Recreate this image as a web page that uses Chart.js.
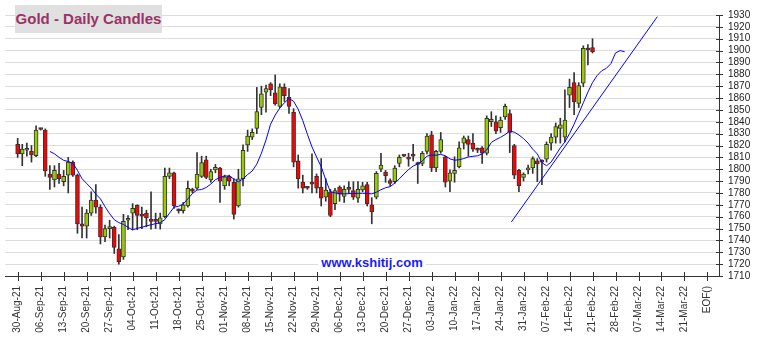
<!DOCTYPE html>
<html>
<head>
    <title>Gold - Daily Candles</title>
    <script src="https://cdn.jsdelivr.net/npm/chart.js"></script>
    <style>
        body { margin: 0; background: #fff; }
        #wrap { position: relative; width: 763px; height: 344px; font-family: "Liberation Sans", Arial, sans-serif; }
        #title { position: absolute; left: 15px; top: 5px; width: 147px; height: 28px; background: #e0e0e0;
                 color: #993366; font-weight: bold; font-size: 15px; line-height: 28px; text-align: center;
                 white-space: nowrap; overflow: visible; }
        #site { position: absolute; left: 318px; top: 254px; width: 108px; height: 17px; background: #fff;
                color: #1a1aff; font-weight: bold; font-size: 13px; line-height: 17px; text-align: center;
                white-space: nowrap; }
    </style>
</head>
<body>
<div id="wrap">
    <canvas id="goldChart" width="763" height="344"></canvas>
    <div id="title">Gold - Daily Candles</div>
    <div id="site">www.kshitij.com</div>
</div>

<script>
    // weekly tick labels, one every 5 trading days (index 0 = 30-Aug-21)
    const weekLabels = ['30-Aug-21', '06-Sep-21', '13-Sep-21', '20-Sep-21', '27-Sep-21', '04-Oct-21', '11-Oct-21',
        '18-Oct-21', '25-Oct-21', '01-Nov-21', '08-Nov-21', '15-Nov-21', '22-Nov-21', '29-Nov-21', '06-Dec-21',
        '13-Dec-21', '20-Dec-21', '27-Dec-21', '03-Jan-22', '10-Jan-22', '17-Jan-22', '24-Jan-22', '31-Jan-22',
        '07-Feb-22', '14-Feb-22', '21-Feb-22', '28-Feb-22', '07-Mar-22', '14-Mar-22', '21-Mar-22', 'EOF()'];

    // daily OHLC
    const opens = [1821, 1813, 1816, 1815, 1811.5, 1834, 1833, 1796, 1791, 1796,
        1789.5, 1795, 1806, 1795, 1754, 1752, 1763, 1774, 1768, 1743,
        1750, 1751, 1733, 1726, 1757, 1763, 1769.5, 1761, 1763, 1756.5,
        1756.5, 1754, 1760, 1794, 1797, 1765.5, 1765, 1769, 1782, 1784,
        1794, 1808, 1791, 1799.5, 1801, 1786, 1794, 1789, 1769, 1792,
        1820.5, 1827, 1834.5, 1852, 1865, 1872, 1864.5, 1853, 1869, 1860.5,
        1848, 1807, 1789, 1784.5, 1788, 1794, 1785, 1776.5, 1781, 1771,
        1785, 1777, 1783.5, 1782, 1775.5, 1782.5, 1787, 1770, 1776.5, 1800,
        1797.5, 1790.5, 1789.5, 1805, 1811.5, 1809, 1811.5, 1804.5, 1805, 1815,
        1829, 1801, 1815, 1810.5, 1790, 1796.5, 1802, 1822, 1825, 1822,
        1816.5, 1818, 1813.5, 1840, 1840, 1835, 1844, 1847, 1820, 1799,
        1793, 1799.5, 1801, 1807, 1806.5, 1808.5, 1822, 1827, 1834.5, 1827,
        1862.5, 1873, 1855.5, 1872.5, 1901, 1902.5];
    const highs = [1826, 1821, 1822, 1820, 1836.5, 1834.5, 1834, 1803, 1803, 1805,
        1799, 1810, 1807, 1796, 1768, 1766, 1781, 1787, 1770, 1753,
        1757, 1752, 1745, 1762, 1761, 1771, 1770, 1768, 1765.5, 1781,
        1763, 1763, 1801, 1801, 1797.5, 1766.5, 1772, 1790, 1784, 1814,
        1811, 1811, 1800, 1804, 1801.5, 1795, 1795, 1792, 1800, 1820.5,
        1833, 1834, 1869, 1870, 1871, 1873, 1879.5, 1872, 1872, 1868,
        1851, 1812, 1795, 1785, 1813, 1796, 1809, 1792, 1783, 1784,
        1786, 1786, 1789.5, 1789.5, 1789.5, 1789, 1789, 1776, 1798, 1813.5,
        1799, 1792, 1803, 1812, 1812, 1813.5, 1821, 1806, 1815, 1830,
        1832, 1816, 1831, 1811, 1799.5, 1810.5, 1823, 1828, 1828, 1830,
        1818, 1819, 1845, 1848.5, 1845, 1844, 1855, 1850, 1821, 1800,
        1797, 1803.5, 1810.5, 1809, 1808, 1823, 1830, 1839, 1843, 1867,
        1876, 1881.5, 1873, 1904, 1905, 1910];
    const lows = [1810, 1803, 1811, 1806, 1810.5, 1833, 1794, 1783, 1785, 1788,
        1786, 1780, 1794, 1746, 1742, 1742, 1761, 1763, 1737, 1739,
        1742, 1729, 1720, 1724, 1749, 1749, 1749, 1750, 1751.5, 1749.5,
        1750, 1749.5, 1759, 1792, 1767, 1763, 1763, 1768, 1780, 1783,
        1793, 1792, 1789, 1797, 1772, 1783, 1786, 1758, 1768, 1786,
        1815, 1825, 1830, 1846, 1848, 1862, 1854, 1852, 1857, 1847,
        1802, 1784, 1780, 1783, 1780, 1780, 1769, 1773, 1760, 1766,
        1773, 1772, 1779.5, 1774.5, 1772, 1781, 1769, 1754, 1775, 1798,
        1789, 1786, 1788, 1802, 1810.5, 1802.5, 1807, 1788, 1803, 1813,
        1798, 1798, 1813.5, 1785, 1781, 1789, 1801, 1817, 1811, 1815,
        1814, 1805, 1812, 1836, 1830, 1831, 1842, 1814, 1792, 1781,
        1790, 1796, 1796.5, 1789.5, 1787, 1806, 1816, 1822, 1822, 1823,
        1852, 1846, 1852, 1869.5, 1888, 1898];
    const closes = [1813, 1817, 1816.5, 1812, 1833, 1833.5, 1798.5, 1793, 1799, 1792,
        1794, 1806, 1795, 1754, 1752, 1763, 1774, 1768, 1743, 1750,
        1751, 1734, 1722, 1756, 1757.5, 1767, 1761, 1760.5, 1759, 1756,
        1756, 1759, 1794, 1797, 1769, 1765, 1770, 1784, 1781.5, 1796,
        1805.5, 1793, 1798, 1801.5, 1790, 1793.5, 1790, 1762, 1792, 1816,
        1828, 1831, 1848.5, 1863.5, 1868, 1867, 1855, 1869.5, 1862, 1853,
        1806, 1792, 1784, 1784, 1787.5, 1784, 1775.5, 1782.5, 1761, 1782,
        1779, 1783, 1783, 1776.5, 1783, 1786, 1771, 1764, 1796.5, 1803.5,
        1794.5, 1788, 1801, 1810, 1811, 1808.5, 1811, 1804, 1813.5, 1828,
        1801, 1815, 1825, 1789, 1797, 1799, 1818, 1826.5, 1821, 1817,
        1816, 1813.5, 1843, 1842, 1832, 1841.5, 1853, 1831, 1795, 1786,
        1796, 1801, 1809, 1804.5, 1806, 1821, 1827, 1836, 1837.5, 1841.5,
        1869, 1857, 1870.5, 1902, 1900.5, 1899];

    // moving average line as drawn (starts at trading day 7, runs past the last candle)
    const maStart = 7;
    const maValues = [1815, 1813, 1810, 1807.5, 1806.5, 1805, 1799, 1792, 1788, 1784,
        1779, 1775, 1768.4, 1762.5, 1757.5, 1755, 1753.5, 1751, 1748.8, 1750.2,
        1751.1, 1752.2, 1753.2, 1754.1, 1755, 1757.5, 1762.9, 1768, 1768.8, 1770.7,
        1775, 1779.5, 1782.5, 1782.9, 1784.6, 1787.5, 1791.2, 1793.1, 1794.3, 1794.3,
        1791.8, 1789.4, 1791.8, 1795.5, 1798.5, 1804.3, 1813.5, 1824.7, 1838, 1845.6,
        1851.6, 1856, 1859.5, 1857.3, 1850.6, 1841, 1829.5, 1818.8, 1810.3, 1802.2,
        1791, 1781, 1780.1, 1779.4, 1779.2, 1779.4, 1779.5, 1779.7, 1779.7, 1779.6,
        1779.2, 1780.6, 1782.7, 1784.4, 1785.3, 1788.3, 1791.9, 1796, 1799.7, 1802.7,
        1804.5, 1807, 1811, 1812, 1811.8, 1812.5, 1811.3, 1808.7, 1807.6, 1808,
        1809, 1810.3, 1810.9, 1811.3, 1812.9, 1816.2, 1822.6, 1825, 1826.9, 1829.2,
        1832.2, 1831.2, 1828.9, 1825.8, 1822, 1816.9, 1812.9, 1805.5, 1803, 1806,
        1812, 1818, 1823, 1830, 1838, 1847, 1856, 1865, 1873, 1879,
        1883, 1885, 1889, 1898, 1900, 1899];

    // straight trend line (trading-day index, price)
    const trendX = [107.35, 139.1];
    const trendY = [1755.5, 1928.6];

    const bodies = opens.map((o, i) => ({ x: i, y: [o, closes[i]] }));
    const wicks = lows.map((l, i) => ({ x: i, y: [l, highs[i]] }));
    const maLine = maValues.map((v, i) => ({ x: maStart + i, y: v }));
    const trendLine = trendX.map((x, i) => ({ x: x, y: trendY[i] }));

    // tick marks that cross the axis lines
    const crossTicks = {
        id: 'crossTicks',
        afterDraw(chart) {
            const ctx = chart.ctx, xs = chart.scales.x, ys = chart.scales.y;
            ctx.save();
            ctx.strokeStyle = '#333';
            ctx.lineWidth = 1;
            ctx.beginPath();
            ys.ticks.forEach(t => {
                const py = Math.round(ys.getPixelForValue(t.value)) + 0.5;
                ctx.moveTo(ys.left - 3, py);
                ctx.lineTo(ys.left + 4, py);
            });
            xs.ticks.forEach(t => {
                const px = Math.round(xs.getPixelForValue(t.value)) + 0.5;
                ctx.moveTo(px, xs.top - 4);
                ctx.lineTo(px, xs.top + 5);
            });
            ctx.stroke();
            ctx.restore();
        }
    };

    const ctx = document.getElementById('goldChart').getContext('2d');
    new Chart(ctx, {
        type: 'bar',
        data: {
            datasets: [
                {
                    type: 'line',
                    data: trendLine,
                    borderColor: '#0000ff',
                    borderWidth: 1,
                    pointRadius: 0,
                    order: 0
                },
                {
                    type: 'line',
                    data: maLine,
                    borderColor: '#0000ff',
                    borderWidth: 1,
                    pointRadius: 0,
                    order: 1
                },
                {
                    data: bodies,
                    backgroundColor: bodies.map(b => b.y[1] >= b.y[0] ? '#99cc00' : '#ff0000'),
                    borderColor: '#333333',
                    borderWidth: 1,
                    borderSkipped: false,
                    barThickness: 4,
                    minBarLength: 2,
                    grouped: false,
                    order: 2
                },
                {
                    data: wicks,
                    backgroundColor: '#333333',
                    barThickness: 1,
                    grouped: false,
                    order: 3
                }
            ]
        },
        options: {
            responsive: false,
            animation: false,
            layout: { padding: { left: 5, top: 15, right: 0, bottom: 0 } },
            plugins: { legend: { display: false }, tooltip: { enabled: false } },
            scales: {
                x: {
                    type: 'linear',
                    min: -0.25,
                    max: 150,
                    afterBuildTicks: scale => {
                        scale.ticks = weekLabels.map((_, i) => ({ value: i * 5 }));
                    },
                    afterFit: scale => { scale.height = 68; },
                    grid: { drawOnChartArea: false, drawTicks: false },
                    border: { display: true, color: '#333', width: 1 },
                    ticks: {
                        autoSkip: false,
                        minRotation: 90,
                        maxRotation: 90,
                        padding: 10,
                        color: '#333',
                        font: { family: 'Liberation Sans', size: 10 },
                        callback: v => weekLabels[Math.round(v / 5)]
                    }
                },
                y: {
                    position: 'right',
                    min: 1710,
                    max: 1930,
                    afterFit: scale => { scale.width = 44; },
                    grid: { color: '#dddddd', lineWidth: 1, drawTicks: false },
                    border: { display: true, color: '#333', width: 1 },
                    ticks: {
                        stepSize: 10,
                        autoSkip: false,
                        padding: 9,
                        color: '#222',
                        font: { family: 'Liberation Sans', size: 10 },
                        callback: v => String(v)
                    }
                }
            }
        },
        plugins: [crossTicks]
    });
</script>
</body>
</html>
